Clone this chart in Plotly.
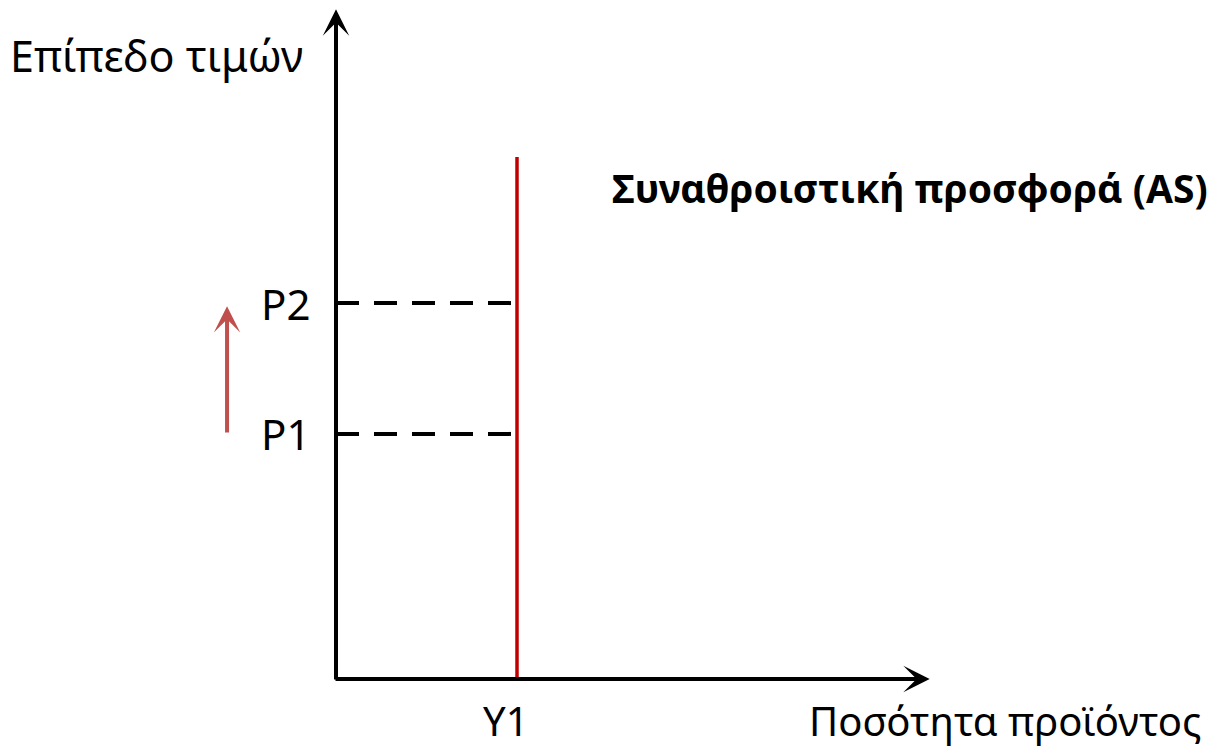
import plotly.graph_objects as go

# ---- data (arbitrary units; origin at the axes' corner) ----
price_labels = ["P1", "P2"]
price_levels = [1.354, 2.077]
output_labels = ["Y1"]
output_levels = [1.0]
as_top = 2.884
x_axis_end = 3.28
y_axis_end = 3.70
shift_arrow_x = -0.602
shift_arrow_from = 1.354
shift_arrow_to = 2.06

y_title = "Επίπεδο τιμών"
x_title = "Ποσότητα προϊόντος"
as_title = "Συναθροιστική προσφορά (AS)"

# ---- layout helpers (pixel -> data) ----
W, H = 1213, 748
S = 181.0
OX, OY = 336, 679
def px(xp):
    return (xp - OX) / S
def py(yp):
    return (OY - yp) / S

FONT = "Noto Sans"
fig = go.Figure()

# dashed price guides
for p in price_levels:
    fig.add_trace(go.Scatter(x=[0, output_levels[0]], y=[p, p], mode="lines",
                             line=dict(color="black", width=4, dash="23px,15px"),
                             hoverinfo="skip"))

# vertical AS curve
fig.add_trace(go.Scatter(x=[output_levels[0], output_levels[0]], y=[0, as_top], mode="lines",
                         line=dict(color="#c00000", width=3.5), hoverinfo="skip"))

ann = []
# axes with arrowheads
ann.append(dict(x=x_axis_end, y=0, ax=px(OX - 2), ay=0, xref="x", yref="y", axref="x", ayref="y",
                text="", showarrow=True, arrowhead=3, arrowsize=1.1, arrowwidth=4, arrowcolor="black", standoff=0))
ann.append(dict(x=0, y=y_axis_end, ax=0, ay=py(OY + 2), xref="x", yref="y", axref="x", ayref="y",
                text="", showarrow=True, arrowhead=3, arrowsize=1.1, arrowwidth=4, arrowcolor="black", standoff=0))
# red shift arrow
ann.append(dict(x=shift_arrow_x, y=shift_arrow_to, ax=shift_arrow_x, ay=shift_arrow_from,
                xref="x", yref="y", axref="x", ayref="y",
                text="", showarrow=True, arrowhead=3, arrowsize=1.1, arrowwidth=4,
                arrowcolor="#c0504d", standoff=0))

# texts
ann.append(dict(x=px(8), y=py(55), xref="x", yref="y", text=y_title, showarrow=False,
                xanchor="left", yanchor="middle", font=dict(family=FONT, size=43, color="black")))
ann.append(dict(x=px(1210), y=py(187), xref="x", yref="y", text="<b>" + as_title + "</b>", showarrow=False,
                xanchor="right", yanchor="middle", font=dict(family=FONT, size=39, color="black")))
for lab, p in zip(price_labels, price_levels):
    ann.append(dict(x=px(312), y=p, xref="x", yref="y", text=lab, showarrow=False,
                    xanchor="right", yanchor="middle", font=dict(family=FONT, size=42, color="black")))
for lab, q in zip(output_labels, output_levels):
    ann.append(dict(x=q - 0.06, y=py(720), xref="x", yref="y", text=lab, showarrow=False,
                    xanchor="center", yanchor="middle", font=dict(family=FONT, size=40, color="black")))
ann.append(dict(x=px(1203), y=py(720), xref="x", yref="y", text=x_title, showarrow=False,
                xanchor="right", yanchor="middle", font=dict(family=FONT, size=40, color="black")))

fig.update_layout(
    width=W, height=H,
    margin=dict(l=0, r=0, t=0, b=0),
    paper_bgcolor="white", plot_bgcolor="white",
    showlegend=False, hovermode=False,
    xaxis=dict(range=[px(0), px(W)], visible=False, fixedrange=True),
    yaxis=dict(range=[py(H), py(0)], visible=False, fixedrange=True),
    annotations=ann,
)

fig.write_html(
    "out.html",
    config={"displayModeBar": False},
    post_script="document.body.style.margin='0';document.body.style.overflow='hidden';",
)
